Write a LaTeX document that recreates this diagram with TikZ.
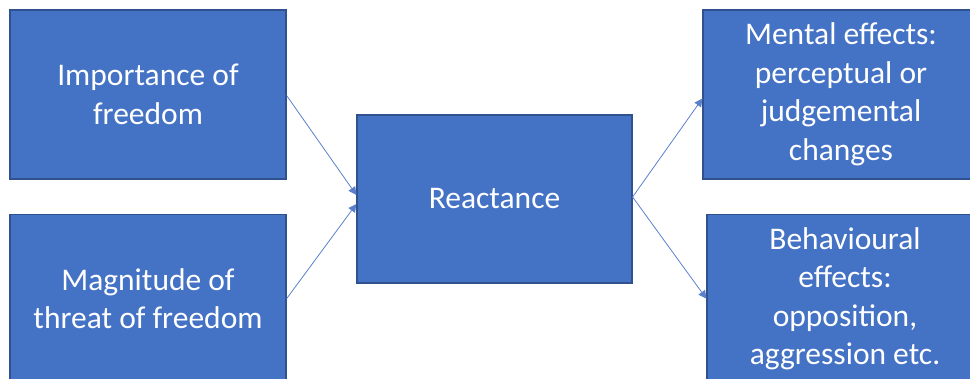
\documentclass[tikz,border=0pt]{standalone}
\usepackage{fontspec}
\setmainfont{Carlito}
\usepackage{tikz}
\usetikzlibrary{arrows.meta, positioning}
\definecolor{boxfill}{HTML}{4472C4}
\definecolor{boxline}{HTML}{2F528F}
\definecolor{linkline}{HTML}{5B80CB}
\tikzset{
    block/.style={rectangle, draw=boxline, line width=1.2pt, fill=boxfill, text=white, align=center, minimum width=276pt, minimum height=169pt, inner sep=0pt, font=\fontsize{31.5}{38.5}\selectfont},
    arrow/.style={-{Triangle[length=8pt, width=8pt]}, line width=0.8pt, color=linkline}
}
\begin{document}
\begin{tikzpicture}[x=1pt, y=-1pt]
    \useasboundingbox (0,0) rectangle (970,379);
    \clip (0,0) rectangle (970,379);
    \node [block] (importance) at (148,94.5) {Importance of\\freedom};
    \node [block, below=34pt of importance] (magnitude) {Magnitude of\\threat of freedom};
    \node [block, minimum width=275pt, minimum height=168pt] (reactance) at (494.5,199) {Reactance};
    \node [block] (mental) at (841,94.5) {Mental effects:\\perceptual or\\judgemental\\changes};
    \node [block, below=34pt of mental, xshift=4pt] (behaviour) {Behavioural\\effects:\\opposition,\\aggression etc.};

    \draw [arrow] ([yshift=-1pt]importance.east) -- ([yshift=4pt]reactance.west);
    \draw [arrow] (magnitude.east) -- ([yshift=-5pt]reactance.west);
    \draw [arrow] ([yshift=2pt]reactance.east) -- ([yshift=-4pt]mental.west);
    \draw [arrow] ([yshift=2pt]reactance.east) -- (behaviour.west);
\end{tikzpicture}
\end{document}
